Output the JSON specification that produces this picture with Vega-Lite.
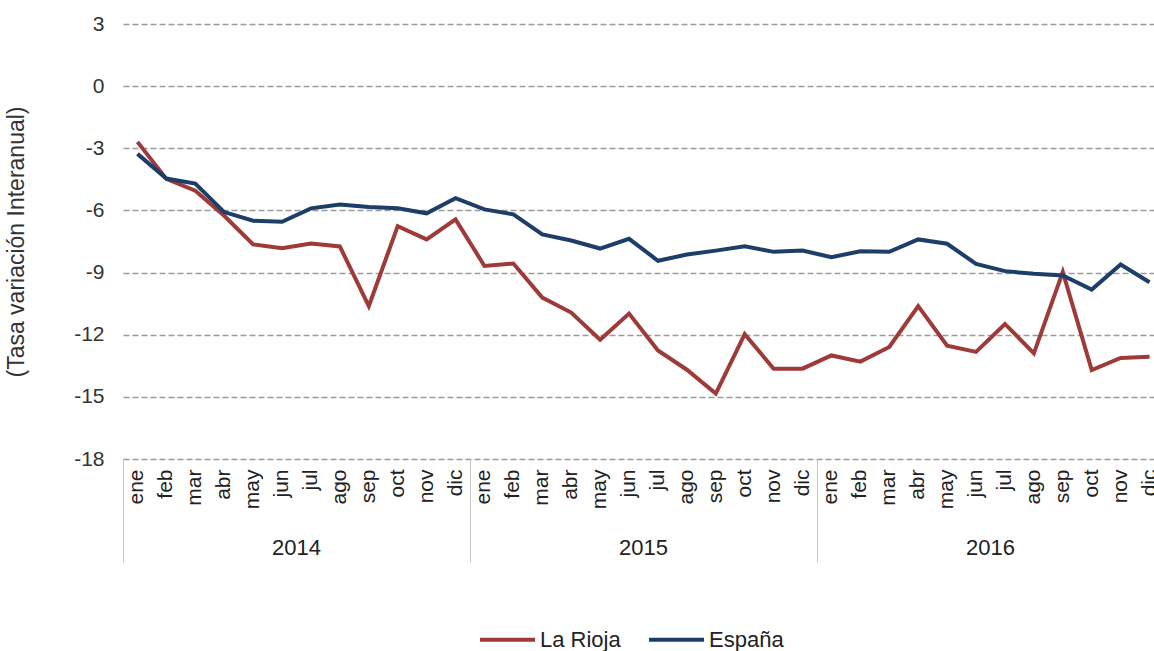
{
  "$schema": "https://vega.github.io/schema/vega-lite/v6.json",
  "width": 1041,
  "height": 435,
  "autosize": {"type": "none"},
  "padding": {"left": 123, "top": 24, "right": -10, "bottom": 192},
  "background": "white",
  "config": {
    "view": {"stroke": null},
    "font": "Liberation Sans",
    "axis": {"labelColor": "#222222", "titleColor": "#333333", "labelFont": "Liberation Sans", "titleFont": "Liberation Sans"},
    "legend": {"labelFont": "Liberation Sans"}
  },
  "data": {
    "values": [
      {"periodo": "2014-01", "serie": "La Rioja", "valor": -2.69},
      {"periodo": "2014-02", "serie": "La Rioja", "valor": -4.48},
      {"periodo": "2014-03", "serie": "La Rioja", "valor": -5.05},
      {"periodo": "2014-04", "serie": "La Rioja", "valor": -6.26},
      {"periodo": "2014-05", "serie": "La Rioja", "valor": -7.64},
      {"periodo": "2014-06", "serie": "La Rioja", "valor": -7.83},
      {"periodo": "2014-07", "serie": "La Rioja", "valor": -7.60},
      {"periodo": "2014-08", "serie": "La Rioja", "valor": -7.74},
      {"periodo": "2014-09", "serie": "La Rioja", "valor": -10.62},
      {"periodo": "2014-10", "serie": "La Rioja", "valor": -6.76},
      {"periodo": "2014-11", "serie": "La Rioja", "valor": -7.40},
      {"periodo": "2014-12", "serie": "La Rioja", "valor": -6.43},
      {"periodo": "2015-01", "serie": "La Rioja", "valor": -8.68},
      {"periodo": "2015-02", "serie": "La Rioja", "valor": -8.56},
      {"periodo": "2015-03", "serie": "La Rioja", "valor": -10.21},
      {"periodo": "2015-04", "serie": "La Rioja", "valor": -10.93},
      {"periodo": "2015-05", "serie": "La Rioja", "valor": -12.24},
      {"periodo": "2015-06", "serie": "La Rioja", "valor": -10.98},
      {"periodo": "2015-07", "serie": "La Rioja", "valor": -12.76},
      {"periodo": "2015-08", "serie": "La Rioja", "valor": -13.69},
      {"periodo": "2015-09", "serie": "La Rioja", "valor": -14.84},
      {"periodo": "2015-10", "serie": "La Rioja", "valor": -11.97},
      {"periodo": "2015-11", "serie": "La Rioja", "valor": -13.64},
      {"periodo": "2015-12", "serie": "La Rioja", "valor": -13.64},
      {"periodo": "2016-01", "serie": "La Rioja", "valor": -13.0},
      {"periodo": "2016-02", "serie": "La Rioja", "valor": -13.3},
      {"periodo": "2016-03", "serie": "La Rioja", "valor": -12.59},
      {"periodo": "2016-04", "serie": "La Rioja", "valor": -10.62},
      {"periodo": "2016-05", "serie": "La Rioja", "valor": -12.53},
      {"periodo": "2016-06", "serie": "La Rioja", "valor": -12.83},
      {"periodo": "2016-07", "serie": "La Rioja", "valor": -11.48},
      {"periodo": "2016-08", "serie": "La Rioja", "valor": -12.9},
      {"periodo": "2016-09", "serie": "La Rioja", "valor": -8.97},
      {"periodo": "2016-10", "serie": "La Rioja", "valor": -13.71},
      {"periodo": "2016-11", "serie": "La Rioja", "valor": -13.12},
      {"periodo": "2016-12", "serie": "La Rioja", "valor": -13.06},
      {"periodo": "2014-01", "serie": "España", "valor": -3.27},
      {"periodo": "2014-02", "serie": "España", "valor": -4.46},
      {"periodo": "2014-03", "serie": "España", "valor": -4.70},
      {"periodo": "2014-04", "serie": "España", "valor": -6.08},
      {"periodo": "2014-05", "serie": "España", "valor": -6.50},
      {"periodo": "2014-06", "serie": "España", "valor": -6.55},
      {"periodo": "2014-07", "serie": "España", "valor": -5.90},
      {"periodo": "2014-08", "serie": "España", "valor": -5.71},
      {"periodo": "2014-09", "serie": "España", "valor": -5.84},
      {"periodo": "2014-10", "serie": "España", "valor": -5.90},
      {"periodo": "2014-11", "serie": "España", "valor": -6.14},
      {"periodo": "2014-12", "serie": "España", "valor": -5.41},
      {"periodo": "2015-01", "serie": "España", "valor": -5.95},
      {"periodo": "2015-02", "serie": "España", "valor": -6.19},
      {"periodo": "2015-03", "serie": "España", "valor": -7.16},
      {"periodo": "2015-04", "serie": "España", "valor": -7.45},
      {"periodo": "2015-05", "serie": "España", "valor": -7.84},
      {"periodo": "2015-06", "serie": "España", "valor": -7.37},
      {"periodo": "2015-07", "serie": "España", "valor": -8.43},
      {"periodo": "2015-08", "serie": "España", "valor": -8.13},
      {"periodo": "2015-09", "serie": "España", "valor": -7.94},
      {"periodo": "2015-10", "serie": "España", "valor": -7.73},
      {"periodo": "2015-11", "serie": "España", "valor": -8.0},
      {"periodo": "2015-12", "serie": "España", "valor": -7.94},
      {"periodo": "2016-01", "serie": "España", "valor": -8.26},
      {"periodo": "2016-02", "serie": "España", "valor": -7.97},
      {"periodo": "2016-03", "serie": "España", "valor": -8.0},
      {"periodo": "2016-04", "serie": "España", "valor": -7.4},
      {"periodo": "2016-05", "serie": "España", "valor": -7.61},
      {"periodo": "2016-06", "serie": "España", "valor": -8.58},
      {"periodo": "2016-07", "serie": "España", "valor": -8.93},
      {"periodo": "2016-08", "serie": "España", "valor": -9.06},
      {"periodo": "2016-09", "serie": "España", "valor": -9.14},
      {"periodo": "2016-10", "serie": "España", "valor": -9.82},
      {"periodo": "2016-11", "serie": "España", "valor": -8.61},
      {"periodo": "2016-12", "serie": "España", "valor": -9.47}
    ]
  },
  "encoding": {
    "y": {
      "field": "valor",
      "type": "quantitative",
      "scale": {"domain": [-18, 3], "nice": false, "zero": false},
      "axis": {
        "values": [-18, -15, -12, -9, -6, -3, 0, 3],
        "labelExpr": "datum.value + ''",
        "title": "(Tasa variación Interanual)",
        "grid": true,
        "gridDash": [6, 3],
        "gridColor": "#9a9a9a",
        "gridWidth": 1.5,
        "ticks": false,
        "domain": false,
        "labelFontSize": 21,
        "labelPadding": 19,
        "labelColor": "#333333",
        "titleFontSize": 23,
        "titleFontWeight": "normal",
        "titlePadding": 45
      }
    }
  },
  "layer": [
    {
      "mark": {"type": "line", "strokeWidth": 4},
      "encoding": {
        "x": {
          "field": "periodo",
          "type": "ordinal",
          "bandPosition": 0.5,
          "scale": {"type": "band", "paddingInner": 0, "paddingOuter": 0},
          "axis": {
            "orient": "bottom",
            "title": null,
            "labelExpr": "['ene','feb','mar','abr','may','jun','jul','ago','sep','oct','nov','dic'][toNumber(slice(datum.value,5,7))-1]",
            "labelAngle": -90,
            "labelFontSize": 21,
            "labelPadding": 10,
            "labelOverlap": false,
            "ticks": false,
            "domain": false,
            "grid": false
          }
        },
        "color": {
          "field": "serie",
          "type": "nominal",
          "scale": {"domain": ["La Rioja", "España"], "range": ["#9e3a38", "#1c3e68"]},
          "legend": {
            "orient": "none",
            "legendX": 355,
            "legendY": 586,
            "direction": "horizontal",
            "title": null,
            "symbolType": "stroke",
            "symbolSize": 3025,
            "symbolStrokeWidth": 4,
            "labelFontSize": 22,
            "labelColor": "#222222",
            "labelOffset": 3,
            "columnPadding": 20
          }
        }
      }
    },
    {
      "mark": {"type": "point", "opacity": 0},
      "encoding": {
        "x": {
          "field": "periodo",
          "type": "ordinal",
          "axis": {
            "orient": "bottom",
            "title": null,
            "values": ["2014-07", "2015-07", "2016-07"],
            "bandPosition": 0,
            "labelOffset": -14.46,
            "labelExpr": "slice(datum.value,0,4)",
            "labelAngle": 0,
            "labelFontSize": 22,
            "labelPadding": 78,
            "ticks": false,
            "domain": false,
            "grid": false
          }
        }
      }
    },
    {
      "mark": {"type": "point", "opacity": 0},
      "encoding": {
        "x": {
          "field": "periodo",
          "type": "ordinal",
          "axis": {
            "orient": "bottom",
            "title": null,
            "values": ["2014-01", "2015-01", "2016-01"],
            "bandPosition": 0,
            "labels": false,
            "ticks": true,
            "tickSize": 103,
            "tickColor": "#c6c6c6",
            "tickWidth": 1,
            "domain": false,
            "grid": false
          }
        }
      }
    }
  ],
  "resolve": {"axis": {"x": "independent"}}
}
